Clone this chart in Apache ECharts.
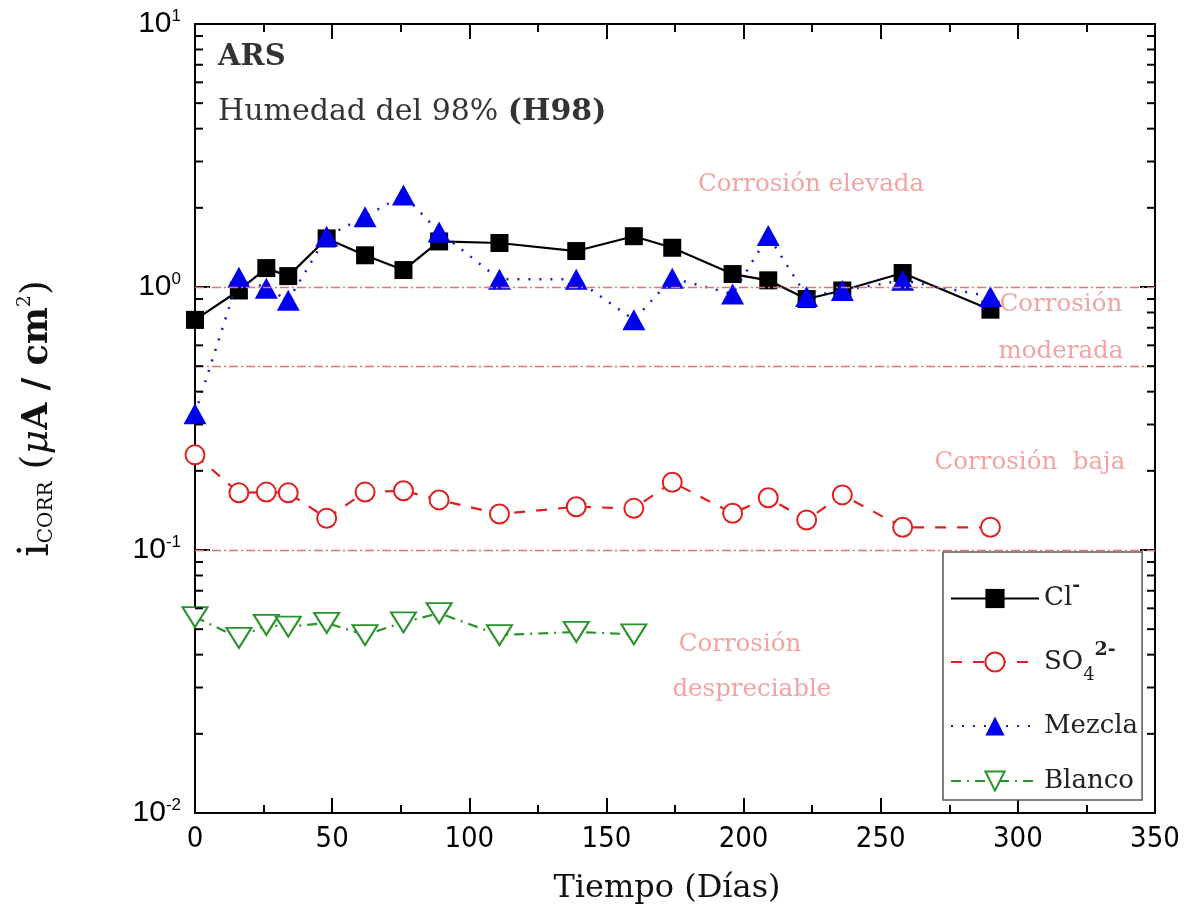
<!DOCTYPE html>
<html>
<head>
<meta charset="utf-8">
<script src="https://cdn.jsdelivr.net/npm/echarts@6/dist/echarts.min.js"></script>
<style>html,body{margin:0;padding:0;background:#fff}#c{width:1190px;height:913px}</style>
</head>
<body>
<div id="c"></div>
<script>
// ---- data ----
const daysCl = [0,16,26,34,48,62,76,89,111,139,160,174,196,209,223,236,258,290];
const valCl  = [0.75,0.97,1.18,1.10,1.53,1.32,1.16,1.49,1.47,1.37,1.56,1.41,1.12,1.06,0.90,0.97,1.13,0.82];

const daysSO4 = [0,16,26,34,48,62,76,89,111,139,160,174,196,209,223,236,258,290];
const valSO4  = [0.23,0.165,0.166,0.165,0.132,0.166,0.168,0.155,0.137,0.146,0.144,0.181,0.138,0.158,0.130,0.162,0.122,0.122];

const daysMez = [0,16,26,34,48,62,76,89,111,139,160,174,196,209,223,236,258,290];
const valMez  = [0.33,1.09,0.99,0.89,1.56,1.85,2.24,1.62,1.07,1.07,0.75,1.08,0.94,1.57,0.92,0.97,1.06,0.92];

const daysBl = [0,16,26,34,48,62,76,89,111,139,160];
const valBl  = [0.0556,0.0463,0.0519,0.0511,0.0528,0.0475,0.0531,0.0575,0.0475,0.0488,0.0478];

const seriesNames = ['Cl','SO4','Mezcla','Blanco'];
const refLines = [1, 0.5, 0.1];

const annotTexts = ['Corrosión elevada','Corrosión','moderada','Corrosión  baja','Corrosión','despreciable'];
const annotX = [224.6, 315.7, 315.7, 304.4, 198.7, 203];
const annotY = [2.44, 0.855, 0.566, 0.214, 0.0435, 0.0294];

const titleX = [8.4, 8.4];
const titleY = [7.43, 4.63];

const xTicks = {min:0, max:350, interval:50};
const yRange = {min:0.01, max:10};
const minorY = [];
[0.01,0.1,1].forEach(d => { for (let k=2;k<=9;k++) minorY.push(+(d*k).toPrecision(3)); });

// ---- chart ----
const SERIF = '"DejaVu Serif", "Liberation Serif", serif';
const SANS = '"Liberation Sans", Arial, sans-serif';
const NARROW = '"Liberation Sans Narrow", "DejaVu Sans Condensed", ' + SANS;
const pair = (xs, ys) => xs.map((x,i)=>[x, ys[i]]);
const pink = '#ef8c8c';

const chart = echarts.init(document.getElementById('c'), null, {renderer:'canvas'});

const annotData = annotTexts.map((t,i)=>({value:[annotX[i], annotY[i]], label:{formatter:t}}));
annotData.push({value:[titleX[0], titleY[0]], label:{formatter:'{b|ARS}', align:'left'}});
annotData.push({value:[titleX[1], titleY[1]], label:{formatter:'{n|Humedad del 98% }{h|(H98)}', align:'left'}});

const option = {
  animation:false,
  backgroundColor:'#fff',
  grid:{left:195, right:35, top:24, bottom:100},
  xAxis:[{
    type:'value', min:xTicks.min, max:xTicks.max, interval:xTicks.interval,
    axisLine:{show:true, onZero:false, lineStyle:{color:'#000', width:2}},
    axisTick:{inside:true, length:15, lineStyle:{color:'#000', width:2}},
    minorTick:{show:true, splitNumber:2, length:8, lineStyle:{color:'#000', width:2}},
    splitLine:{show:false},
    axisLabel:{fontFamily:NARROW, fontSize:29, color:'#000', margin:12},
    name:'Tiempo (Días)', nameLocation:'middle', nameGap:60,
    nameTextStyle:{fontFamily:SERIF, fontSize:32, color:'#111', padding:[0,16,0,0]}
  },{
    type:'value', position:'top', min:xTicks.min, max:xTicks.max, interval:xTicks.interval,
    axisLine:{show:true, onZero:false, lineStyle:{color:'#000', width:2}},
    axisTick:{inside:true, length:15, lineStyle:{color:'#000', width:2}},
    minorTick:{show:true, splitNumber:2, length:8, lineStyle:{color:'#000', width:2}},
    splitLine:{show:false}, axisLabel:{show:false}
  }],
  yAxis:[{
    type:'log', logBase:10, min:yRange.min, max:yRange.max,
    axisLine:{show:true, onZero:false, lineStyle:{color:'#000', width:2}},
    axisTick:{inside:true, length:15, lineStyle:{color:'#000', width:2}},
    splitLine:{show:false},
    axisLabel:{
      margin:14,
      formatter: v => '{b|10}{s|' + Math.round(Math.log10(v)) + '}',
      rich:{
        b:{fontFamily:SANS, fontSize:30, color:'#000'},
        s:{fontFamily:SANS, fontSize:17, color:'#000', padding:[0,0,16,0]}
      }
    },
    name:'{i|i}{sub|CORR}{t| (}{m|μ}{a|A / cm}{sup|2}{t|)}',
    nameLocation:'middle', nameGap:136, nameRotate:90,
    nameTextStyle:{
      rich:{
        i:{fontFamily:SERIF, fontSize:42, color:'#111'},
        sub:{fontFamily:SERIF, fontSize:20, color:'#111', padding:[18,0,0,0]},
        t:{fontFamily:SERIF, fontSize:38, color:'#111'},
        m:{fontFamily:SERIF, fontSize:38, fontStyle:'italic', color:'#111'},
        a:{fontFamily:SERIF, fontSize:35, fontWeight:'bold', color:'#111'},
        sup:{fontFamily:SERIF, fontSize:19, color:'#111', padding:[0,0,24,0]}
      }
    }
  },{
    type:'log', logBase:10, min:yRange.min, max:yRange.max, position:'right',
    axisLine:{show:true, onZero:false, lineStyle:{color:'#000', width:2}},
    axisTick:{inside:true, length:15, lineStyle:{color:'#000', width:2}},
    splitLine:{show:false}, axisLabel:{show:false}
  }],
  legend:{
    data:seriesNames,
    orient:'vertical', left:943, top:552,
    width:180,
    padding:[25,4,6,7],
    itemGap:29,
    itemWidth:88, itemHeight:24,
    backgroundColor:'#fff',
    borderColor:'#555', borderWidth:1.5,
    formatter: n => ({
      'Cl':'{n|Cl}{sup|-}',
      'SO4':'{n|SO}{sub|4}{sup|2-}',
      'Mezcla':'{n|Mezcla}',
      'Blanco':'{n|Blanco}'
    })[n],
    textStyle:{
      rich:{
        n:{fontFamily:SERIF, fontSize:26, color:'#222', lineHeight:32},
        sub:{fontFamily:SERIF, fontSize:18, color:'#222', padding:[26,0,0,0]},
        sup:{fontFamily:SERIF, fontSize:19, color:'#222', fontWeight:'bold', padding:[0,0,24,0]}
      }
    }
  },
  series:[
    {
      name:'Refs', type:'scatter', data:annotData, symbolSize:0, silent:true, z:1,
      label:{show:true, position:'inside', align:'center', verticalAlign:'middle',
        fontFamily:SERIF, fontSize:24.5, color:pink,
        rich:{
          b:{fontFamily:SERIF, fontSize:29, fontWeight:'bold', color:'#000'},
          n:{fontFamily:SERIF, fontSize:30, color:'#000'},
          h:{fontFamily:SERIF, fontSize:30, fontWeight:'bold', color:'#000'}
        }},
      markLine:{
        silent:true, symbol:'none', label:{show:false},
        lineStyle:{color:'#e57373', width:1.3, type:[9,3,2,3]},
        data: refLines.map(v=>({yAxis:v}))
      }
    },
    {
      name:'MinorTicks', type:'custom', silent:true, z:5,
      data: minorY.map(v=>[0, v]),
      renderItem:(params, api)=>{
        const v = api.value(1);
        const L = api.coord([xTicks.min, v]);
        const R = api.coord([xTicks.max, v]);
        return {type:'group', children:[
          {type:'line', shape:{x1:L[0], y1:L[1], x2:L[0]+8, y2:L[1]}, style:{stroke:'#000', lineWidth:2}},
          {type:'line', shape:{x1:R[0], y1:R[1], x2:R[0]-8, y2:R[1]}, style:{stroke:'#000', lineWidth:2}}
        ]};
      }
    },
    {
      name:'Cl', type:'line', data:pair(daysCl, valCl), z:3,
      symbol:'rect', symbolSize:18,
      lineStyle:{color:'#000', width:2.2, type:'solid'},
      itemStyle:{color:'#000'}
    },
    {
      name:'SO4', type:'line', data:pair(daysSO4, valSO4), z:3,
      symbol:'circle', symbolSize:19,
      lineStyle:{color:'#e02020', width:2.2, type:[11,11]},
      itemStyle:{color:'#fff', borderColor:'#e02020', borderWidth:2}
    },
    {
      name:'Mezcla', type:'line', data:pair(daysMez, valMez), z:4,
      symbol:'triangle', symbolSize:[23,21],
      lineStyle:{color:'#1a1acc', width:2.5, type:[2,9]},
      itemStyle:{color:'#0000ee'}
    },
    {
      name:'Blanco', type:'line', data:pair(daysBl, valBl), z:3,
      symbol:'triangle', symbolRotate:180, symbolSize:[25,20],
      lineStyle:{color:'#2a922a', width:2.2, type:[10,6,2,6]},
      itemStyle:{color:'#fff', borderColor:'#2a922a', borderWidth:2}
    }
  ]
};
chart.setOption(option);
</script>
</body>
</html>
